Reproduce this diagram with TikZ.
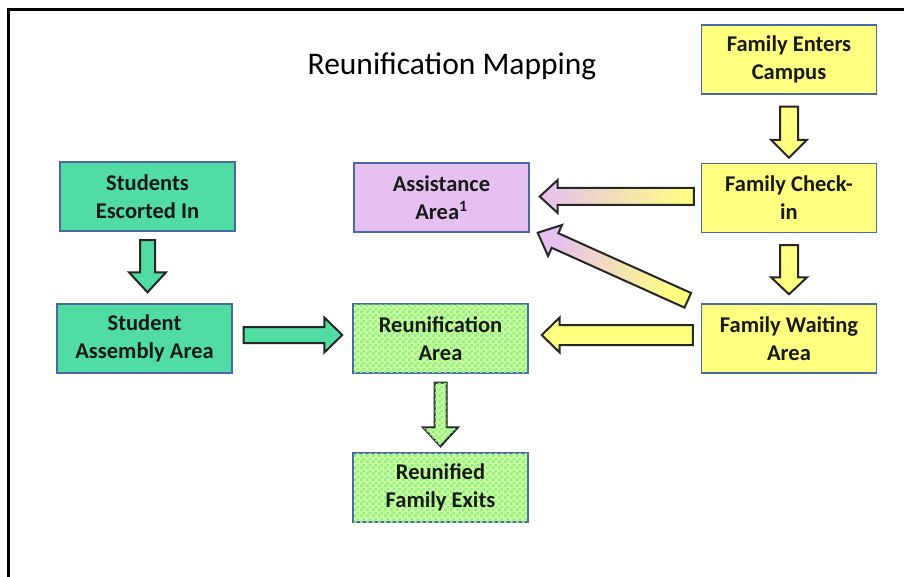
\documentclass[tikz,border=0pt]{standalone}
\usepackage{fontspec}
\setmainfont{Carlito}
\usetikzlibrary{calc,patterns}
\pgfdeclarepatternformonly{mychecker}{\pgfpointorigin}{\pgfqpoint{6pt}{6pt}}{\pgfqpoint{6pt}{6pt}}{%
  \pgfpathrectangle{\pgfpointorigin}{\pgfqpoint{3pt}{3pt}}%
  \pgfpathrectangle{\pgfqpoint{3pt}{3pt}}{\pgfqpoint{3pt}{3pt}}%
  \pgfusepath{fill}}
\definecolor{tealbox}{HTML}{50DCA2}
\definecolor{yelbox}{HTML}{FFFF80}
\definecolor{lavbox}{HTML}{E6C0F0}
\definecolor{chkA}{HTML}{CCFF99}
\definecolor{chkB}{HTML}{8EEE8E}
\definecolor{bordc}{HTML}{4A68A8}
\newcommand\blockarrow[6]{%
  \coordinate (ba-h) at ($(#3)!#6!(#2)$);
  \draw[#1] ($(#2)!#4!90:(#3)$) -- ($(ba-h)!#4!90:(#3)$) -- ($(ba-h)!#5!90:(#3)$)
    -- (#3) -- ($(ba-h)!#5!-90:(#3)$) -- ($(ba-h)!#4!-90:(#3)$) -- ($(#2)!#4!-90:(#3)$) -- cycle;}
\begin{document}
\begin{tikzpicture}[x=1pt,y=-1pt,
  box/.style={draw=bordc,line width=1.4pt,minimum width=175pt,minimum height=69pt,
    align=center,inner sep=2pt,font=\fontsize{22.5}{28}\selectfont\bfseries,text=black!90},
  teal/.style={box,fill=tealbox},
  yel/.style={box,fill=yelbox},
  lav/.style={box,fill=lavbox},
  chk/.style={box,fill=chkA,postaction={pattern=mychecker,pattern color=chkB}},
  arr/.style={draw=black!85,line width=2pt,line join=miter},
]
\useasboundingbox (0,0) rectangle (904,577);
\fill[white] (0,0) rectangle (904,577);
\draw[line width=3pt] (8.5,600) -- (8.5,9.5) -- (930,9.5);

\node (title) at (452,66) {\fontsize{31.5}{36}\selectfont Reunification Mapping};

\node[yel] (enter) at (789,59.5) {Family Enters\\Campus};
\node[yel] (check) at (789,198) {Family Check-\\in};
\node[yel] (wait) at (789,338.5) {Family Waiting\\Area};
\node[lav] (assist) at (441.5,197.5) {Assistance\\Area\textsuperscript{1}};
\node[teal] (escort) at (147.5,196.5) {Students\\Escorted In};
\node[teal] (assembly) at (144.5,338.5) {Student\\Assembly Area};
\node[chk] (reun) at (440.5,338.5) {Reunification\\Area};
\node[chk] (exits) at (440.5,487.5) {Reunified\\Family Exits};

% connector end points
\coordinate (a1s) at ($(enter.south)+(0,12)$);
\coordinate (a1e) at ($(check.north)+(0,-5)$);
\coordinate (a2s) at ($(check.south)+(0,12)$);
\coordinate (a2e) at ($(wait.north)+(0,-9)$);
\coordinate (a3s) at ($(escort.south)+(0,8.5)$);
\coordinate (a3e) at ($(assembly.north)+(3,-11)$);
\coordinate (a4s) at ($(reun.south)+(0,9)$);
\coordinate (a4e) at ($(exits.north)+(0,-6)$);
\coordinate (a5s) at ($(assembly.east)+(11,-3.5)$);
\coordinate (a5e) at ($(reun.west)+(-10,-3.5)$);
\coordinate (a6s) at ($(check.west)+(-7,-1.5)$);
\coordinate (a6e) at ($(assist.east)+(10,-1)$);
\coordinate (a7s) at ($(wait.west)+(-8,-3.5)$);
\coordinate (a7e) at ($(reun.east)+(13,-3.5)$);
\coordinate (a8s) at ($(wait.north west)+(-13,-3)$);
\coordinate (a8e) at ($(assist.south east)+(8,0)$);

\blockarrow{arr,fill=yelbox}{a1s}{a1e}{9pt}{18pt}{18pt}
\blockarrow{arr,fill=yelbox}{a2s}{a2e}{9pt}{18pt}{17pt}
\blockarrow{arr,fill=tealbox}{a3s}{a3e}{7.5pt}{18.5pt}{20pt}
\blockarrow{arr,fill=chkA,postaction={pattern=mychecker,pattern color=chkB}}{a4s}{a4e}{6pt}{17.5pt}{19pt}
\blockarrow{arr,fill=tealbox}{a5s}{a5e}{8pt}{17.5pt}{18pt}
\blockarrow{arr,left color=lavbox,right color=yelbox}{a6s}{a6e}{8.5pt}{16.5pt}{18pt}
\blockarrow{arr,fill=yelbox}{a7s}{a7e}{10pt}{17.5pt}{18pt}
\blockarrow{arr,left color=lavbox,right color=yelbox,shading angle=65}{a8s}{a8e}{8pt}{17pt}{19pt}
\end{tikzpicture}
\end{document}
